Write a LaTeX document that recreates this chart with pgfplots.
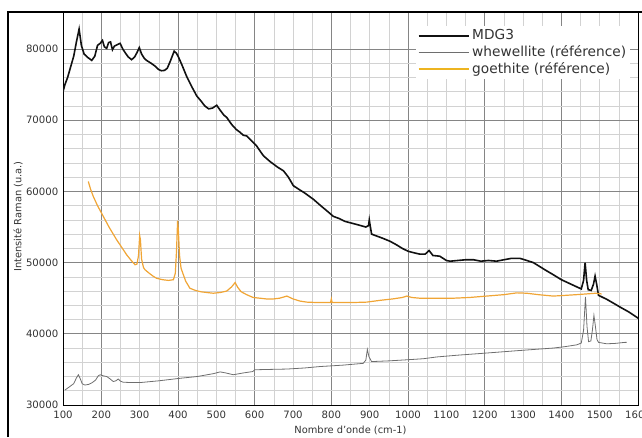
\documentclass[border=0pt]{standalone}
\usepackage{fontspec}
\setmainfont{DejaVu Sans}
\usepackage{pgfplots}
\pgfplotsset{compat=1.18}
\definecolor{mdg}{HTML}{111111}
\definecolor{whew}{HTML}{6E6E6E}
\definecolor{goe}{HTML}{F0A535}
\definecolor{goeleg}{HTML}{EDB420}
\definecolor{gridlight}{HTML}{D2D2D2}
\definecolor{griddark}{HTML}{858585}
\definecolor{lbl}{HTML}{333333}

\begin{document}
\begin{tikzpicture}[x=1pt,y=1pt]
\useasboundingbox (0,0) rectangle (481.5,327.75);
% cadre de la figure
\draw[line width=1pt] (6,0) -- (6,318.75) -- (481.5,318.75);
\begin{axis}[
    at={(47.25pt,24pt)}, anchor=south west,
    scale only axis, width=431.25pt, height=294.75pt,
    xmin=100, xmax=1600, ymin=30000, ymax=85200,
    xtick={200,400,...,1600},
    minor xtick={100,150,...,1600},
    extra x ticks={100,300,...,1500},
    extra x tick style={grid=none},
    ytick={30000,40000,...,80000},
    minor y tick num=4,
    scaled y ticks=false, scaled x ticks=false,
    grid=both,
    major grid style={griddark, line width=0.6pt},
    minor grid style={gridlight, line width=0.5pt},
    tick style={draw=none},
    axis line style={black, line width=0.6pt},
    /pgf/number format/.cd, 1000 sep={}, assume math mode=true,
    /pgfplots/.cd,
    tick label style={font=\fontsize{7.6}{9}\selectfont, text=lbl},
    xticklabel style={yshift=-1pt},
    xlabel={Nombre d'onde (cm-1)},
    ylabel={Intensité Raman (u.a.)},
    label style={font=\fontsize{7.4}{9}\selectfont, text=lbl},
    xlabel style={at={(axis description cs:0.5,-0.064)}, anchor=center},
    ylabel style={at={(axis description cs:-0.078,0.48)}, anchor=center},
    legend style={at={(rel axis cs:0.614,0.966)}, anchor=north west,
        draw=none, fill=white, inner sep=1pt,
        font=\fontsize{10.3}{12}\selectfont, text=lbl,
        row sep=-1.2pt},
    legend cell align=left,
    legend image code/.code={\draw[#1] (0pt,0pt) -- (37.5pt,0pt);},
]
\addplot[draw=mdg, line width=1.2pt] coordinates {
(100,74000)(105,75000)(112,76000)(120,77500)(128,79000)(135,81000)(142,82800)
(148,80500)(155,79300)(165,78800)(175,78400)(183,79000)(190,80500)(197,80800)
(203,81200)(208,80300)(214,80100)(219,80900)(224,81000)(229,79900)(234,80400)
(241,80600)(249,80800)(256,80000)(262,79500)(270,78900)(279,78500)(287,78900)
(293,79500)(299,80200)(305,79300)(312,78700)(318,78400)(330,78000)(340,77600)
(350,77100)(357,76950)(365,77000)(372,77300)(380,78300)(390,79700)(396,79400)
(401,78900)(410,77800)(423,76100)(435,74800)(449,73400)(460,72700)(470,72000)
(480,71600)(490,71700)(501,72100)(510,71400)(520,70700)(527,70400)(540,69400)
(552,68700)(562,68300)(570,67900)(579,67800)(590,67200)(605,66400)(615,65600)
(623,65000)(640,64200)(660,63400)(675,62900)(688,62000)(701,60800)(715,60300)
(730,59800)(753,58900)(770,58100)(790,57200)(805,56500)(820,56200)(835,55800)
(849,55600)(870,55300)(890,55000)(897,55200)(899,56000)(901,55300)(905,54000)
(920,53700)(935,53400)(953,53000)(970,52500)(985,52000)(1000,51600)(1014,51400)
(1030,51200)(1045,51200)(1055,51700)(1065,51000)(1083,50900)(1100,50300)
(1110,50200)(1130,50300)(1150,50400)(1171,50400)(1190,50200)(1210,50300)
(1231,50200)(1250,50400)(1270,50600)(1292,50600)(1310,50300)(1327,50000)
(1345,49400)(1360,48900)(1379,48300)(1400,47600)(1420,47100)(1440,46600)
(1452,46300)(1458,47500)(1462,50000)(1466,47500)(1470,46200)(1478,46100)
(1484,47000)(1488,48100)(1492,47000)(1497,45400)(1505,45200)(1520,44800)
(1536,44300)(1555,43700)(1575,43100)(1592,42500)(1600,42200)
};
\addlegendentry{MDG3}
\addplot[draw=whew, line width=0.6pt] coordinates {
(105,32100)(118,32600)(128,33000)(135,33800)(140,34250)(145,33700)(150,33000)
(157,32800)(167,32900)(175,33100)(185,33500)(192,34100)(197,34250)(205,34100)
(214,34000)(222,33700)(231,33300)(238,33400)(244,33650)(250,33350)(257,33200)
(280,33150)(301,33150)(350,33400)(405,33750)(450,34000)(492,34400)(510,34650)
(525,34500)(544,34250)(570,34500)(595,34700)(600,34950)(640,35000)(684,35050)
(730,35200)(770,35400)(830,35600)(883,35850)(890,36300)(894,37800)(898,36800)
(905,36100)(950,36200)(997,36350)(1040,36500)(1075,36750)(1130,37000)
(1205,37300)(1290,37650)(1379,38000)(1410,38200)(1440,38450)(1452,38700)
(1458,40500)(1463,45200)(1467,41000)(1471,38900)(1477,39000)(1481,40500)
(1485,42600)(1489,41000)(1493,39200)(1497,38800)(1518,38600)(1540,38650)
(1566,38800)(1570,38800)
};
\addlegendentry{whewellite (référence)}
\addplot[draw=goe, line width=0.9pt,
    legend image post style={draw=goeleg, line width=1.4pt}] coordinates {
(166,61400)(172,60300)(179,59300)(190,58000)(205,56500)(220,55000)(240,53200)
(255,52000)(266,51100)(278,50300)(288,49700)(293,49800)(297,51000)(300,53800)
(302,53200)(305,50500)(310,49300)(314,49000)(325,48500)(335,48100)(344,47800)
(360,47600)(375,47500)(388,47600)(393,48500)(396,51500)(399,55900)(401,54500)
(404,51000)(408,49200)(414,48300)(420,47400)(431,46400)(445,46100)(460,45900)
(475,45800)(492,45700)(510,45800)(527,46000)(540,46600)(549,47200)(556,46500)
(565,45900)(579,45500)(596,45100)(614,45000)(630,44900)(649,44900)(665,45000)
(684,45300)(700,44900)(718,44600)(736,44450)(760,44400)(780,44400)(798,44400)
(800,44900)(802,44400)(830,44400)(860,44400)(892,44450)(927,44700)(960,44900)
(985,45100)(997,45300)(1010,45100)(1031,45000)(1060,45000)(1083,45000)
(1118,45000)(1160,45100)(1205,45300)(1250,45500)(1284,45750)(1310,45700)
(1340,45500)(1379,45300)(1410,45400)(1440,45500)(1465,45600)(1490,45700)
(1505,45600)
};
\addlegendentry{goethite (référence)}
\end{axis}
\end{tikzpicture}
\end{document}
